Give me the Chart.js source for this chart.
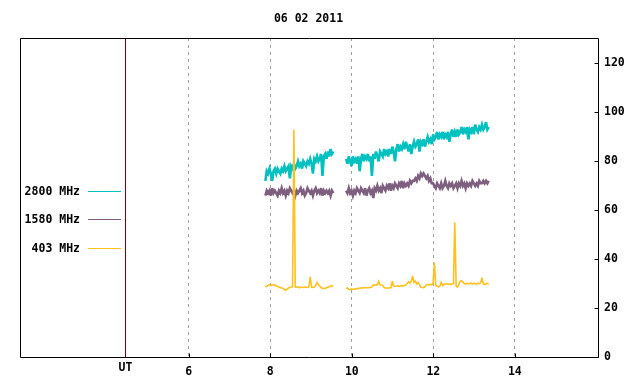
<!DOCTYPE html>
<html>
<head>
<meta charset="utf-8">
<script src="https://cdn.jsdelivr.net/npm/chart.js@4/dist/chart.umd.min.js"></script>
<style>
  html, body { margin: 0; padding: 0; background: #fff; }
  #c { display: block; }
</style>
</head>
<body>
<canvas id="c" width="640" height="384" style="width:640px;height:384px"></canvas>
<script>
// time axis (hours UT); samples every 2 minutes
var titleText = '06 02 2011';
var xTicks = [6, 8, 10, 12, 14];
var yTicks = [0, 20, 40, 60, 80, 100, 120];
var utHour = 4.44;
var sampleStep = 1 / 30;
var seg1Start = 7.88;
var seg2Start = 9.86;

var labels = ['2800 MHz', '1580 MHz', '403 MHz'];
var colors = ['#00c0c0', '#7f5f7f', '#ffc020'];

// 2800 MHz
var f2800a = [72, 76, 75, 77, 75, 72, 76, 77, 75, 77,
              76, 75, 77, 76, 78, 76, 77, 78, 73, 78,
              77, 79, 77, 78, 80, 78, 79, 77, 80, 79,
              78, 80, 79, 81, 79, 75, 81, 80, 82, 80,
              81, 83, 74, 82, 83, 81, 84, 82, 85, 83, 84];
var f2800b = [81, 79, 82, 80, 78, 82, 80, 81, 79, 82,
              76, 81, 83, 80, 82, 81, 83, 80, 82, 74,
              83, 81, 84, 82, 80, 84, 83, 82, 85, 83,
              84, 82, 85, 83, 86, 84, 80, 85, 87, 84,
              86, 85, 87, 85, 88, 86, 84, 87, 83, 86,
              88, 86, 87, 89, 84, 88, 87, 89, 86, 88,
              90, 88, 89, 87, 91, 89, 90, 92, 89, 91,
              90, 92, 89, 91, 90, 92, 88, 91, 93, 90,
              92, 90, 93, 91, 92, 94, 91, 93, 92, 94,
              89, 93, 92, 94, 91, 95, 93, 92, 94, 93,
              95, 93, 94, 96, 93, 94];

// 1580 MHz
var f1580a = [66, 68, 67, 68, 66, 69, 67, 68, 67, 66,
              68, 67, 69, 67, 68, 66, 68, 67, 69, 68,
              67, 68, 66, 68, 67, 68, 69, 67, 68, 66,
              67, 69, 68, 67, 68, 66, 68, 69, 67, 68,
              67, 69, 66, 68, 67, 68, 67, 68, 66, 68, 67];
var f1580b = [68, 67, 69, 67, 68, 66, 68, 67, 69, 68,
              67, 69, 68, 67, 69, 66, 68, 69, 67, 68,
              65, 69, 68, 70, 68, 69, 67, 70, 69, 68,
              70, 69, 71, 68, 70, 69, 71, 70, 69, 71,
              70, 72, 69, 71, 70, 71, 70, 72, 71, 72,
              72, 73, 72, 74, 73, 75, 74, 75, 74, 73,
              74, 72, 73, 71, 71, 70, 69, 71, 70, 69,
              71, 69, 70, 72, 70, 69, 71, 70, 71, 69,
              70, 71, 69, 71, 70, 72, 70, 71, 69, 71,
              70, 71, 70, 72, 71, 70, 71, 70, 72, 71,
              71, 72, 71, 72, 71, 72];

// 403 MHz
var f403a = [29, 28.8, 29.3, 29.5, 29.2, 29.6, 29.3, 29.5, 29, 28.8,
             28.6, 28.4, 28.2, 28, 27.6, 27.2, 27.8, 28.2, 28.5, 28.6,
             28.7, 93, 28.6, 28.5, 28.7, 28.3, 28.5, 28.5, 28.4, 28.6,
             28.5, 28.4, 28.6, 32.8, 28.5, 28.4, 28.6, 29.2, 30.5, 29.6,
             29, 28.4, 28, 28.1, 28, 28.3, 28.6, 28.6, 29, 29.2, 28.8];
var f403b = [28, 28.2, 27.6, 27.5, 27.8, 27.6, 27.7, 27.9, 28, 27.9,
             28.2, 28.3, 28.2, 28.4, 28.3, 28.2, 28.4, 28.3, 28.5, 28.6,
             29.4, 29.5, 29.4, 29.6, 31, 29.5, 29.4, 29.2, 28.4, 28.2,
             28.1, 28.3, 28.2, 28.3, 31, 29, 28.9, 29, 29.1, 28.9,
             29, 29.2, 29, 29.3, 29.4, 30, 30.8, 30.2, 31, 33,
             30.5, 31, 29.8, 30.4, 29.6, 28.6, 28.4, 28.3, 28.6, 29.4,
             29.6, 29.4, 29.7, 29.5, 30, 38.4, 29.2, 29, 28.6, 29,
             30.5, 29.2, 29.6, 29.8, 30, 29.7, 29.9, 29.6, 29.8, 30,
             55, 29, 28.5, 29.8, 31, 31.2, 30.6, 30, 29.8, 30.2,
             29.9, 30, 30.3, 29.8, 30.1, 30, 29.7, 30.2, 30, 30.3,
             32.4, 29.8, 29.6, 29.9, 30.1, 29.8];

function series(a, b) {
  var pts = a.map(function (v, i) { return { x: seg1Start + i * sampleStep, y: v }; });
  pts.push({ x: (seg1Start + a.length * sampleStep + seg2Start) / 2, y: null });
  return pts.concat(b.map(function (v, i) { return { x: seg2Start + i * sampleStep, y: v }; }));
}

var FONT = 'bold 11.5px "DejaVu Sans Mono", "Liberation Mono", monospace';

var framePlugin = {
  id: 'frame',
  beforeDatasetsDraw: function (chart) {
    chart.ctx.save();
    chart.ctx.miterLimit = 4;
  },
  afterDatasetsDraw: function (chart) {
    chart.ctx.restore();
  },
  afterDraw: function (chart) {
    var ctx = chart.ctx, a = chart.chartArea;
    var xs = chart.scales.x, ys = chart.scales.y;
    var L = Math.round(a.left) + 0.5, R = Math.round(a.right) + 0.5;
    var T = Math.round(a.top) + 0.5, B = Math.round(a.bottom) + 0.5;
    ctx.save();

    // UT marker line
    var ux = Math.round(xs.getPixelForValue(utHour)) + 0.5;
    ctx.strokeStyle = '#800000';
    ctx.lineWidth = 1;
    ctx.beginPath(); ctx.moveTo(ux, T); ctx.lineTo(ux, B); ctx.stroke();

    // border box and inward ticks
    ctx.strokeStyle = '#000';
    ctx.beginPath();
    ctx.rect(L, T, R - L, B - T);
    xTicks.forEach(function (v) {
      var px = Math.round(xs.getPixelForValue(v)) + 0.5;
      ctx.moveTo(px, B); ctx.lineTo(px, B - 4);
    });
    yTicks.forEach(function (v) {
      var py = Math.round(ys.getPixelForValue(v)) + 0.5;
      ctx.moveTo(R, py); ctx.lineTo(R - 4, py);
    });
    ctx.stroke();

    ctx.fillStyle = '#000';
    ctx.font = FONT;
    ctx.textBaseline = 'middle';
    ctx.textAlign = 'center';
    ctx.fillText(titleText, 308.5, 19.5);
    ctx.fillText('UT', ux, 368);

    // legend
    ctx.textAlign = 'right';
    var ly = [191.5, 219.5, 248.5];
    labels.forEach(function (lab, i) {
      ctx.fillStyle = '#000';
      ctx.fillText(lab, 80, ly[i] + 1);
      ctx.strokeStyle = colors[i];
      ctx.beginPath(); ctx.moveTo(88, ly[i]); ctx.lineTo(121, ly[i]); ctx.stroke();
    });
    ctx.restore();
  }
};

new Chart(document.getElementById('c'), {
  type: 'line',
  data: {
    datasets: [
      { label: labels[0], data: series(f2800a, f2800b), borderColor: colors[0], borderWidth: 2.6, order: 2 },
      { label: labels[1], data: series(f1580a, f1580b), borderColor: colors[1], borderWidth: 2.6, order: 1 },
      { label: labels[2], data: series(f403a, f403b), borderColor: colors[2], borderWidth: 1.6, order: 0 }
    ]
  },
  options: {
    responsive: false,
    animation: false,
    devicePixelRatio: 1,
    layout: { padding: { left: 20, top: 38, right: 0, bottom: 0 } },
    elements: {
      line: { borderWidth: 1, tension: 0, fill: false, borderJoinStyle: 'miter' },
      point: { radius: 0, hoverRadius: 0 }
    },
    spanGaps: false,
    plugins: { legend: { display: false }, tooltip: { enabled: false }, title: { display: false } },
    scales: {
      x: {
        type: 'linear',
        min: 1.86,
        max: 16.04,
        afterBuildTicks: function (s) { s.ticks = xTicks.map(function (v) { return { value: v }; }); },
        afterFit: function (s) { s.height = 27; },
        grid: { color: '#a0a0a0', lineWidth: 1, drawTicks: false },
        border: { display: false, dash: [3, 4] },
        ticks: { color: '#000', font: { family: '"DejaVu Sans Mono", monospace', size: 11.5, weight: 'bold' }, padding: 8, maxRotation: 0, autoSkip: false }
      },
      y: {
        position: 'right',
        min: 0,
        max: 130.4,
        afterBuildTicks: function (s) { s.ticks = yTicks.map(function (v) { return { value: v }; }); },
        afterFit: function (s) { s.width = 42; },
        grid: { display: false, drawTicks: false },
        border: { display: false },
        ticks: { color: '#000', font: { family: '"DejaVu Sans Mono", monospace', size: 11.5, weight: 'bold' }, padding: 6 }
      }
    }
  },
  plugins: [framePlugin]
});
</script>
</body>
</html>
